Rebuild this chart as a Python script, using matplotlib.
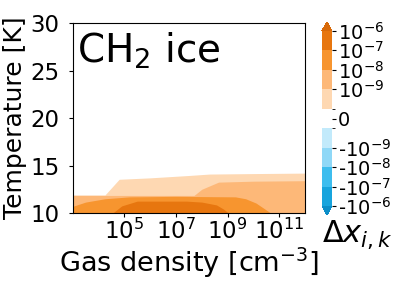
import numpy as np
import matplotlib
matplotlib.use("Agg")
import matplotlib.pyplot as plt
from matplotlib import colors, cm, ticker

# ----------------------------
# DATA
# ----------------------------
# contour levels of the change in abundance
levels = [-1e-6, -1e-7, -1e-8, -1e-9, -1e-10, 1e-10, 1e-9, 1e-8, 1e-7, 1e-6]
level_colors = ["#17a4dd", "#3dbdee", "#8fd8f7", "#c2eafb", "#ffffff",
                "#fed8b2", "#fdb878", "#f7952f", "#e7760f"]
over_color = "#d86a0a"
under_color = "#0c8ec8"

cbar_ticks = [-1e-6, -1e-7, -1e-8, -1e-9, 0, 1e-9, 1e-8, 1e-7, 1e-6]
cbar_ticklabels = ["-$10^{-6}$", "-$10^{-7}$", "-$10^{-8}$", "-$10^{-9}$", "0",
                   "$10^{-9}$", "$10^{-8}$", "$10^{-7}$", "$10^{-6}$"]

# upper edge (temperature) of each filled region vs log10 gas density
# > 1e-10
logn_l1 = [3.0, 4.25, 4.8, 6.0, 7.5, 8.3, 10.0, 12.0]
temp_l1 = [11.9, 11.9, 13.55, 13.7, 13.95, 14.1, 14.15, 14.2]
# > 1e-9
logn_l2 = [3.0, 7.7, 8.0, 8.65, 10.0, 12.0]
temp_l2 = [11.85, 11.85, 12.5, 13.25, 13.35, 13.4]
# > 1e-8
logn_l3 = [3.0, 3.5, 4.25, 5.2, 7.0, 9.3, 9.7, 10.1, 10.4, 10.67, 12.0]
temp_l3 = [10.7, 11.15, 11.5, 11.7, 11.75, 11.7, 11.5, 11.05, 10.5, 10.0, 10.0]
# > 1e-7
logn_l4 = [3.0, 4.55, 4.9, 5.5, 7.4, 8.0, 8.57, 8.85, 9.03, 12.0]
temp_l4 = [10.0, 10.0, 10.75, 11.25, 11.25, 11.15, 10.85, 10.4, 10.0, 10.0]

yticks = [10, 15, 20, 25, 30]
xticks = [1e5, 1e7, 1e9, 1e11]

# ----------------------------
# PLOT
# ----------------------------
fig = plt.figure(figsize=(4.07, 2.85), dpi=100)
ax = fig.add_axes([0.1786, 0.2526, 0.5708, 0.6667])

fills = [(logn_l1, temp_l1, level_colors[5]),
         (logn_l2, temp_l2, level_colors[6]),
         (logn_l3, temp_l3, level_colors[7]),
         (logn_l4, temp_l4, level_colors[8])]
for logn, temp, c in fills:
    n = 10.0 ** np.array(logn)
    ax.fill_between(n, 10, temp, color=c, linewidth=0)

ax.set_xscale("log")
ax.set_xlim(1e3, 1e12)
ax.set_ylim(10, 30)
ax.set_xticks(xticks)
ax.xaxis.set_minor_locator(ticker.NullLocator())
ax.set_yticks(yticks)
ax.tick_params(labelsize=16.5, length=3.2)
ax.tick_params(axis="x", pad=1)
ax.tick_params(axis="y", pad=6.5)
ax.set_xlabel("Gas density [cm$^{-3}$]", fontsize=19.5, labelpad=1)
ax.set_ylabel("Temperature [K]", fontsize=18, labelpad=2)
ax.text(0.02, 0.96, "CH$_2$ ice", transform=ax.transAxes, fontsize=28,
        ha="left", va="top")

# colorbar
cmap = colors.ListedColormap(level_colors)
cmap.set_over(over_color)
cmap.set_under(under_color)
norm = colors.BoundaryNorm(levels, cmap.N)
cax = fig.add_axes([0.791, 0.2456, 0.0246, 0.677])
cb = fig.colorbar(cm.ScalarMappable(norm=norm, cmap=cmap), cax=cax,
                  extend="both", ticks=cbar_ticks)
cb.ax.set_yticklabels(cbar_ticklabels)
cb.ax.tick_params(labelsize=14, length=3, pad=1)
cb.outline.set_visible(False)
fig.text(0.792, 0.232, r"$\Delta x_{i,k}$", fontsize=22, ha="left", va="top")

plt.savefig("out.png", dpi=100)
